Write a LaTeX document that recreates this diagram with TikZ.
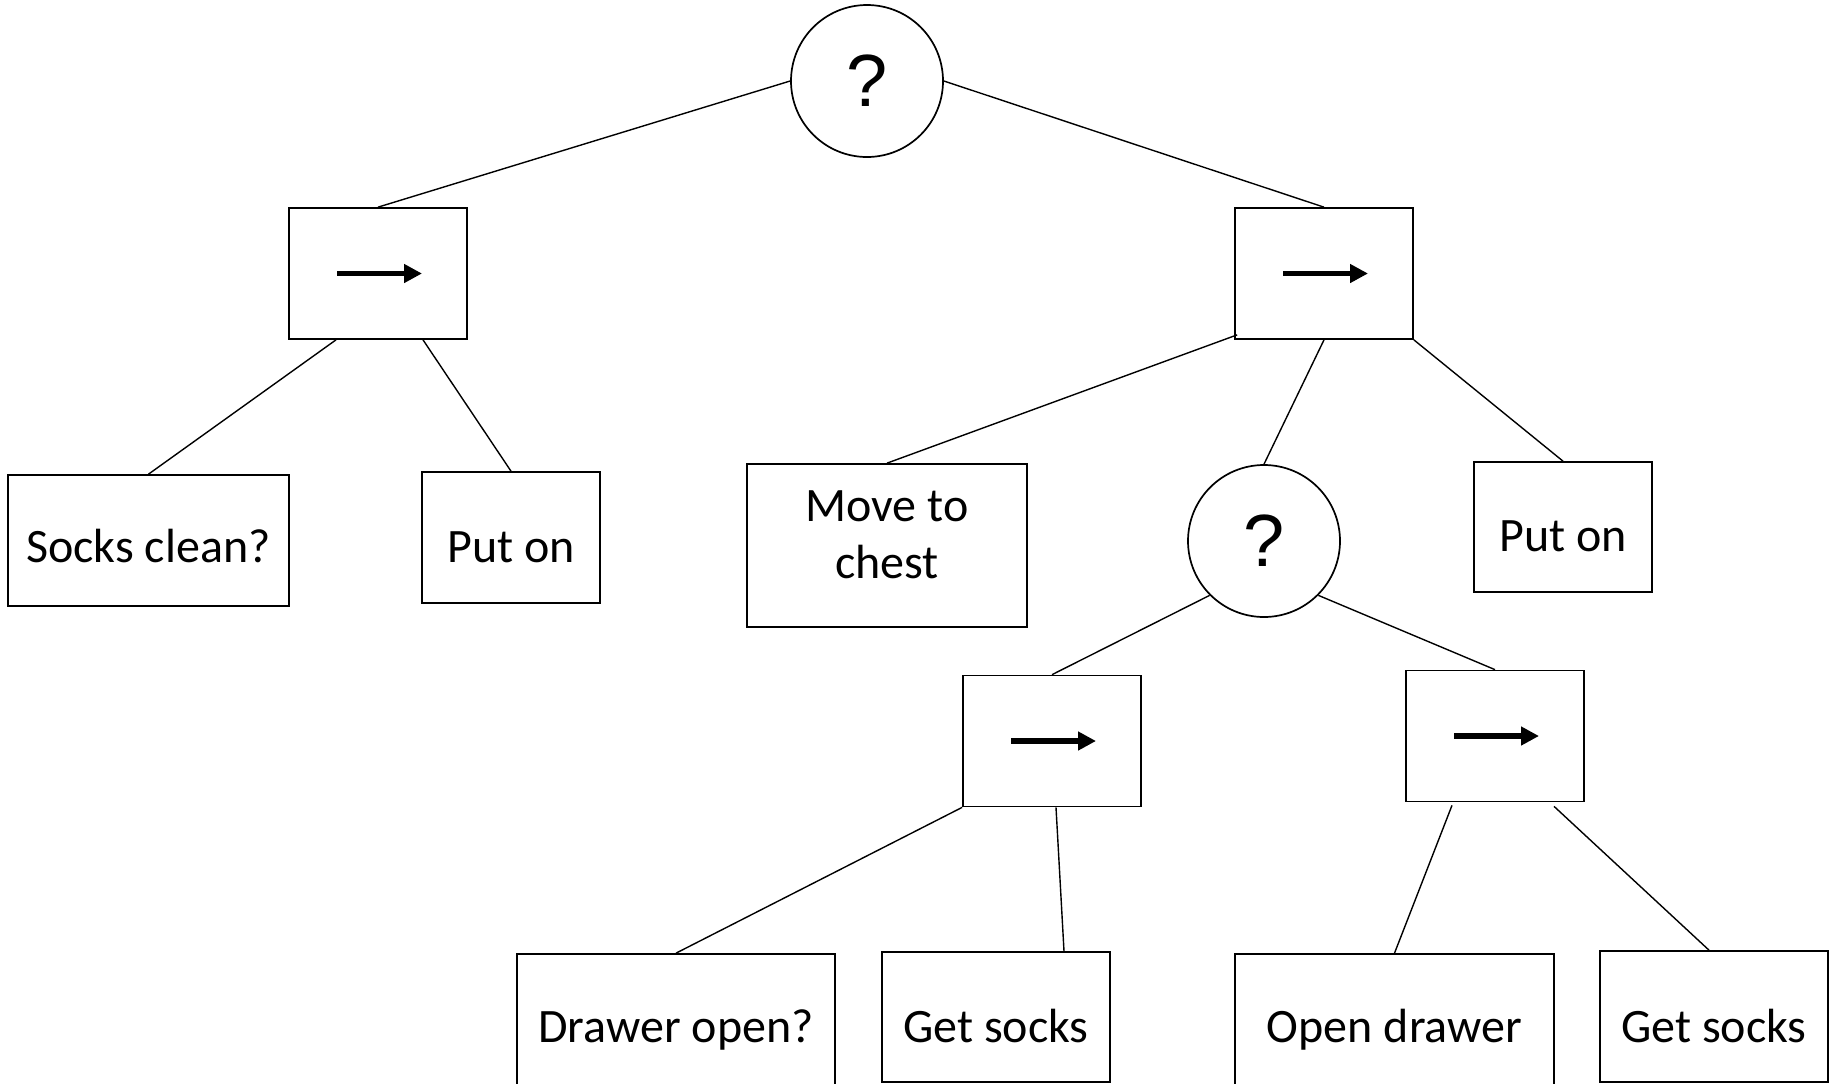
\documentclass[tikz,border=0pt]{standalone}
\usepackage{fontspec}
\setmainfont{Carlito}
\newfontfamily\arialfont{Liberation Sans}
\usetikzlibrary{arrows.meta}
\tikzset{
  box/.style={draw, line width=0.85pt, inner sep=0pt, font=\fontsize{24}{28.5}\selectfont, align=center},
  tb/.style={text height=#1pt, text depth=0pt},
  seqbox/.style={draw, line width=0.85pt, inner sep=0pt, minimum width=89pt, minimum height=65.5pt},
  sel/.style={draw, circle, line width=0.85pt, inner sep=0pt, minimum size=76pt, font=\arialfont\fontsize{37}{40}\selectfont},
  link/.style={line width=0.7pt},
  seqarrow/.style={line width=2.8pt, -{Triangle[length=9pt,width=9pt]}}
}
\begin{document}
\begin{tikzpicture}[x=0.5pt,y=-0.5pt]
\useasboundingbox (0,0) rectangle (1837,1083);
\clip (0,0) rectangle (1837,1083);
% selectors
\node[sel] (c1) at (867,81) {?};
\node[sel] (c2) at (1264,541) {?};
% sequence boxes
\node[seqbox] (s1) at (378,273.5) {};
\node[seqbox] (s2) at (1324,273.5) {};
\node[seqbox] (s3) at (1052,741) {};
\node[seqbox] (s4) at (1495,736) {};
\foreach \s in {s1,s2,s3,s4}{
  \draw[seqarrow] ([xshift=-20.5pt]\s.center) -- ([xshift=22pt]\s.center);
}
% leaves
\node[box, tb=21.5, minimum width=140.5pt, minimum height=65.5pt] (sc) at (148.5,540.5) {Socks clean?};
\node[box, tb=24.5, minimum width=89pt, minimum height=65.5pt] (p1) at (511,537.5) {Put on};
\node[box, minimum width=140pt, minimum height=81.5pt] (mv) at (887,545.5) {Move to\\chest\rule[-10.5pt]{0pt}{0pt}};
\node[box, tb=24, minimum width=89pt, minimum height=65pt] (p2) at (1563,527) {Put on};
\node[box, tb=13, minimum width=159pt, minimum height=75pt] (d1) at (676,1029) {Drawer open?};
\node[box, tb=25, minimum width=114pt, minimum height=65pt] (g1) at (996,1017) {Get socks};
\node[box, tb=13, minimum width=159.5pt, minimum height=75pt] (o1) at (1394.5,1029) {Open drawer};
\node[box, tb=25.5, minimum width=114pt, minimum height=65.5pt] (g2) at (1714,1016.5) {Get socks};
% connectors
\draw[link] (c1.west) -- (s1.north);
\draw[link] (c1.east) -- (s2.north);
\draw[link] ([xshift=-21pt]s1.south) -- (sc.north);
\draw[link] ([xshift=22.5pt]s1.south) -- (p1.north);
\draw[link] ([xshift=1.5pt,yshift=2.5pt]s2.south west) -- (mv.north);
\draw[link] (s2.south) -- (c2.north);
\draw[link] (s2.south east) -- (p2.north);
\draw[link] (c2.225) -- (s3.north);
\draw[link] (c2.-45) -- (s4.north);
\draw[link] (s3.south west) -- (d1.north);
\draw[link] ([xshift=2pt]s3.south) -- ([xshift=34pt]g1.north);
\draw[link] ([xshift=-21.5pt,yshift=-1.5pt]s4.south) -- (o1.north);
\draw[link] ([xshift=29.5pt,yshift=-2pt]s4.south) -- ([xshift=-2.5pt]g2.north);
\end{tikzpicture}
\end{document}
